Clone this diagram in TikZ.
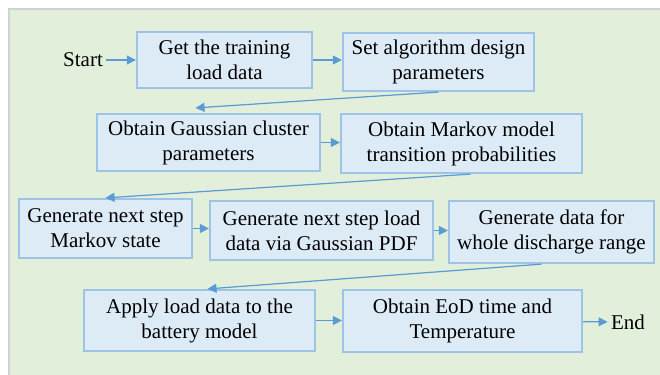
\documentclass[tikz,border=0pt]{standalone}
\usepackage{fontspec}
\setmainfont{Liberation Serif}
\usepackage{tikz}
\usetikzlibrary{arrows.meta}
\usepackage{xcolor}
\definecolor{bgreen}{HTML}{E2EFDA}
\definecolor{boxfill}{HTML}{DDEBF7}
\definecolor{boxline}{HTML}{9DC3E6}
\definecolor{flowline}{HTML}{5B9BD5}

\begin{document}
\begin{tikzpicture}[x=1bp,y=1bp,>={Triangle[length=9bp,width=9bp]},
  font=\fontsize{21bp}{25bp}\selectfont,
  box/.style={draw=boxline,fill=boxfill,line width=2.2bp,align=center,inner sep=2bp},
  flow/.style={->,draw=flowline,fill=flowline,line width=1.2bp}]
\useasboundingbox (0,0) rectangle (660,374);
\begin{scope}
\clip (0,0) rectangle (660,374);
\draw[gray!35,fill=bgreen,line width=1.5bp] (9,-5) rectangle (665,365);
\end{scope}
% row 1
\node (start) at (83,314) {Start};
\node[box,minimum width=175bp,minimum height=56bp] (train) at (224.5,314) {Get the training\\load data};
\node[box,minimum width=191bp,minimum height=58bp] (param) at (438.5,312) {Set algorithm design\\parameters};
% row 2
\node[box,minimum width=223bp,minimum height=57bp] (gauss) at (208.5,231.5) {Obtain Gaussian cluster\\parameters};
\node[box,minimum width=241bp,minimum height=59bp] (markov) at (461.5,230.5) {Obtain Markov model\\transition probabilities};
% row 3
\node[box,minimum width=173bp,minimum height=59bp] (state) at (105.5,145.5) {Generate next step\\Markov state};
\node[box,minimum width=223bp,minimum height=59bp] (pdf) at (321.5,143.5) {Generate next step load\\data via Gaussian PDF};
\node[box,minimum width=205bp,minimum height=62bp] (range) at (551.5,142) {Generate data for\\whole discharge range};
% row 4
\node[box,minimum width=231bp,minimum height=61bp] (apply) at (199.5,53.5) {Apply load data to the\\battery model};
\node[box,minimum width=239bp,minimum height=62bp] (eod) at (462.5,53) {Obtain EoD time and\\Temperature};
\node (end) at (628,52) {End};
% connectors
\draw[flow] (start) -- (train);
\draw[flow] (train) -- (train -| param.west);
\draw[flow] (param.south) -- ([shift={(-13,5)}]gauss.north);
\draw[flow] (gauss) -- (gauss -| markov.west);
\draw[flow] ([xshift=9bp]markov.south) -- (state.north);
\draw[flow] (state) -- (state -| pdf.west);
\draw[flow] (pdf) -- (pdf -| range.west);
\draw[flow] ([xshift=-10bp]range.south) -- ([xshift=8bp]apply.north);
\draw[flow] (apply) -- (apply -| eod.west);
\draw[flow] (eod) -- (end);
\end{tikzpicture}
\end{document}
